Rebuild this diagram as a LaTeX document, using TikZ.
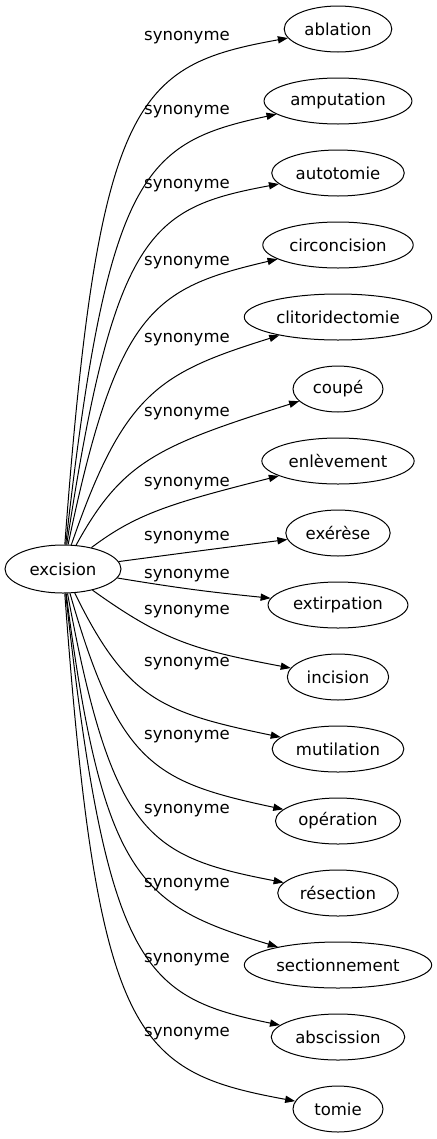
\documentclass[tikz,border=0pt]{standalone}
\usepackage{fontspec}
\setmainfont{DejaVu Sans}
\usetikzlibrary{arrows.meta,shapes.geometric,calc}
\begin{document}
\begin{tikzpicture}[x=0.75pt,y=-0.75pt,
    every node/.style={font=\fontsize{12.4}{15}\selectfont},
    word/.style={draw,ellipse,line width=0.75pt,inner xsep=3.4pt,minimum width=67.5pt,minimum height=34.5pt},
    syn/.style={-{Triangle[length=7.5pt,width=5.4pt]},line width=0.75pt}]
  \useasboundingbox (0,0) rectangle (436,1139);

  % Define the source word
  \node[word,minimum width=87pt,minimum height=36pt] (excision) at (63,569) {excision};

  % Synonyms, one per row: word / bend of its edge / label height
  \foreach \w/\kx/\ky/\ly [count=\i from 0] in {ablation/100/72/38, amputation/110/150/112,
      autotomie/117/214/186, circoncision/120/296/263, clitoridectomie/127/383/340,
      coupé/125/456/414, enlèvement/140/511/484, exérèse/198/551/538,
      extirpation/190/590/576, incision/169/645/612, mutilation/130/706/664,
      opération/122/775/737, résection/115/850/811, sectionnement/105/895/885,
      abscission/109/990/960, tomie/99/1065/1034}
  {
    \node[word] (syn\i) at (338,29+72*\i) {\w};
    \node (lab\i) at (187,\ly) {synonyme};
    \coordinate (k\i) at (\kx,\ky);
    \draw[syn] (excision) .. controls ($(excision)!0.95!(k\i)$) and ($(syn\i)!0.85!(k\i)$) .. (syn\i);
  }
\end{tikzpicture}
\end{document}
